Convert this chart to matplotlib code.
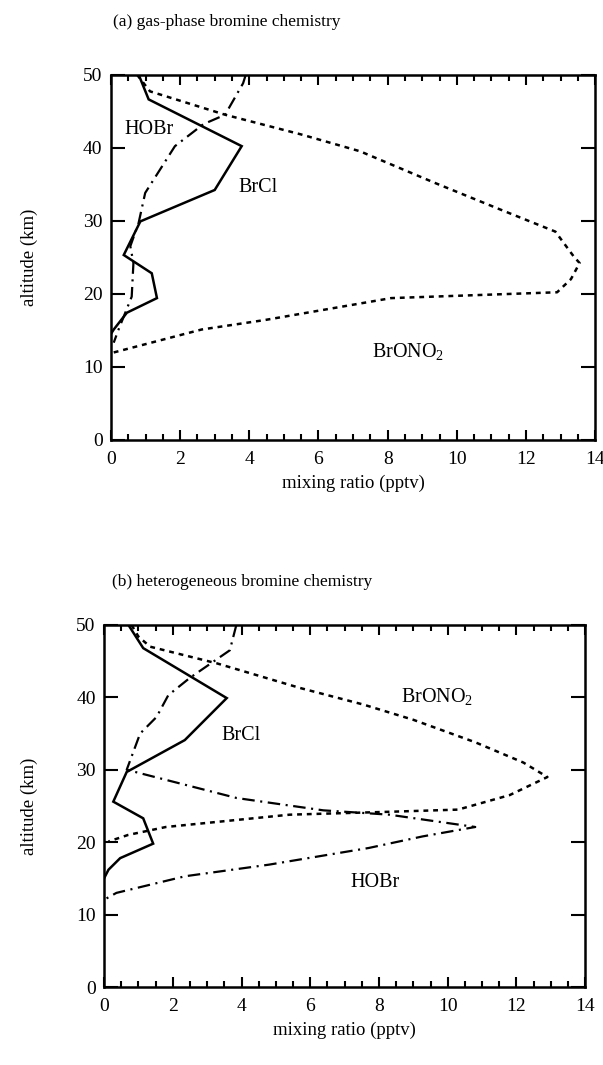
import matplotlib
matplotlib.use('Agg')
import matplotlib.pyplot as plt
from matplotlib.ticker import MultipleLocator

plt.rcParams['font.family'] = ['Liberation Serif', 'DejaVu Serif']
plt.rcParams['mathtext.fontset'] = 'custom'
plt.rcParams['mathtext.rm'] = 'Liberation Serif'
plt.rcParams['lines.scale_dashes'] = False

# (a) gas-phase bromine chemistry
a_brcl_x = [0.8, 1.09, 3.78, 3.0, 0.85, 0.37, 1.18, 1.33, 0.46, 0.08, 0.0]
a_brcl_z = [50, 46.6, 40.2, 34.2, 29.9, 25.3, 22.8, 19.4, 17.4, 15.1, 14.5]

a_hobr_x = [3.9, 3.82, 3.3, 2.67, 1.85, 0.99, 0.8, 0.56, 0.65, 0.6, 0.22, 0.08]
a_hobr_z = [50, 48.8, 44.5, 43.2, 40.2, 33.8, 29.7, 26.5, 24.2, 19.6, 15.1, 13.3]

a_brono2_x = [0.75, 1.13, 3.3, 5.5, 7.2, 9.35, 11.27, 12.85, 13.38, 13.55, 13.3, 12.9,
              10.5, 8.1, 4.45, 2.62, 0.03]
a_brono2_z = [50, 47.7, 44.5, 41.8, 39.5, 35.2, 31.5, 28.5, 25.1, 24.2, 22.0, 20.2,
              19.8, 19.4, 16.4, 15.1, 11.9]

# (b) heterogeneous bromine chemistry
b_brcl_x = [0.71, 1.14, 3.57, 2.35, 0.66, 0.27, 1.14, 1.43, 0.47, 0.13, 0.0]
b_brcl_z = [50, 46.8, 39.9, 34.1, 29.7, 25.6, 23.3, 19.8, 17.8, 16.2, 15.0]

b_hobr_x = [3.85, 3.66, 2.5, 1.87, 1.53, 1.05, 0.66, 3.86, 6.38, 8.3, 10.8,
            9.27, 7.7, 4.8, 2.36, 0.36, 0.02]
b_hobr_z = [50, 46.5, 42.7, 40.3, 37.3, 35.0, 30.0, 26.1, 24.4, 23.8, 22.1,
            20.8, 19.2, 16.9, 15.3, 13.0, 12.1]

b_brono2_x = [0.8, 1.0, 1.34, 3.28, 5.7, 7.55, 9.0, 10.8, 12.2, 12.9, 11.8, 10.3,
              8.3, 5.4, 1.8, 0.7, 0.13]
b_brono2_z = [50, 48.4, 47.0, 44.7, 41.3, 39.0, 36.9, 33.8, 31.0, 29.0, 26.5, 24.5,
              24.2, 23.8, 22.1, 21.0, 20.1]

fig = plt.figure(figsize=(6.03, 10.65), dpi=100)
ax_a = fig.add_axes([0.184, 0.587, 0.803, 0.343])
ax_b = fig.add_axes([0.1725, 0.0732, 0.798, 0.340])

solid = dict(color='black', lw=1.8, solid_joinstyle='miter')
dotted = dict(color='black', lw=1.8, dashes=(3.5, 3.5))
dashdot = dict(color='black', lw=1.6, dashes=(9, 4, 1.5, 4))


def style(ax, ylab_x):
    ax.set_xlim(0, 14)
    ax.set_ylim(0, 50)
    ax.xaxis.set_major_locator(MultipleLocator(2))
    ax.xaxis.set_minor_locator(MultipleLocator(0.5))
    ax.yaxis.set_major_locator(MultipleLocator(10))
    ax.tick_params(which='both', direction='in', top=True, right=True,
                   labelsize=14, width=1.5)
    ax.tick_params(which='major', length=7)
    ax.tick_params(which='minor', length=4)
    ax.tick_params(axis='y', which='major', length=10, pad=6)
    ax.tick_params(axis='x', pad=8)
    for s in ax.spines.values():
        s.set_linewidth(1.8)
    ax.set_xlabel('mixing ratio (pptv)', fontsize=13.5, labelpad=5)
    ax.set_ylabel('altitude (km)', fontsize=13.5)
    ax.yaxis.set_label_coords(ylab_x, 0.5)


# panel (a)
ax_a.plot(a_brcl_x, a_brcl_z, **solid)
ax_a.plot(a_hobr_x, a_hobr_z, **dashdot)
ax_a.plot(a_brono2_x, a_brono2_z, **dotted)
ax_a.text(1.1, 42.5, 'HOBr', fontsize=14.5, ha='center', va='center')
ax_a.text(4.25, 34.5, 'BrCl', fontsize=14.5, ha='center', va='center')
ax_a.text(8.6, 12.0, 'BrONO$_{\\mathrm{2}}$', fontsize=14.5, ha='center', va='center')
style(ax_a, -0.151)

# panel (b)
ax_b.plot(b_brcl_x, b_brcl_z, **solid)
ax_b.plot(b_hobr_x, b_hobr_z, **dashdot)
ax_b.plot(b_brono2_x, b_brono2_z, **dotted)
ax_b.text(9.7, 40.0, 'BrONO$_{\\mathrm{2}}$', fontsize=14.5, ha='center', va='center')
ax_b.text(4.0, 34.8, 'BrCl', fontsize=14.5, ha='center', va='center')
ax_b.text(7.9, 14.4, 'HOBr', fontsize=14.5, ha='center', va='center')
style(ax_b, -0.137)

fig.text(113 / 603, 1 - 22 / 1065, '(a) gas-phase bromine chemistry',
         fontsize=12.5, ha='left', va='center')
fig.text(112 / 603, 1 - 582 / 1065, '(b) heterogeneous bromine chemistry',
         fontsize=12.5, ha='left', va='center')

fig.savefig('out.png', dpi=100)
